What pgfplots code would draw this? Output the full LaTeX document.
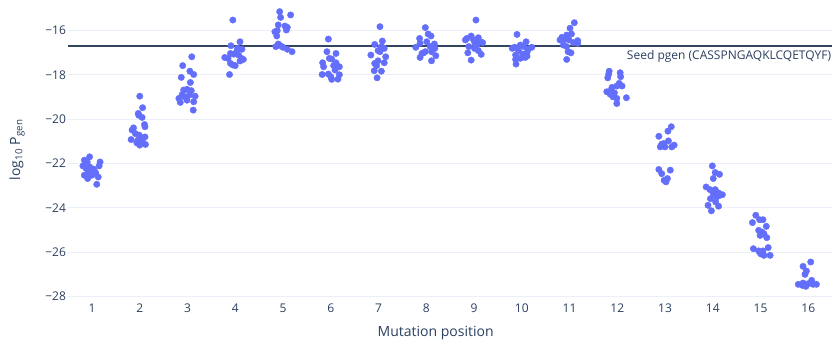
\documentclass[border=0pt]{standalone}
\usepackage{fontspec}
\setmainfont{Open Sans}
\usepackage{pgfplots}
\pgfplotsset{compat=1.18}
\usepackage{pgfplotstable}
\definecolor{mk}{HTML}{636EFA}
\definecolor{txt}{HTML}{2A3F5F}
\definecolor{gridc}{HTML}{EBF0F8}
\definecolor{hl}{HTML}{34465E}

\pgfplotstableread{
x y
0.95 -21.70
0.84 -21.85
0.90 -21.93
0.81 -22.11
1.17 -21.93
1.15 -22.11
0.88 -22.23
0.98 -22.30
0.93 -22.38
1.05 -22.33
1.08 -22.43
0.84 -22.53
0.91 -22.68
1.00 -22.53
1.13 -22.61
1.10 -22.94
0.95 -22.15
1.03 -22.25
2.00 -18.96
2.06 -19.48
1.97 -19.74
1.98 -19.82
2.05 -19.92
2.10 -20.24
2.11 -20.34
1.87 -20.39
1.84 -20.49
1.91 -20.65
1.99 -20.72
2.11 -20.80
1.82 -20.92
1.96 -20.95
2.03 -20.87
1.94 -21.07
2.00 -21.17
2.12 -21.14
2.06 -21.02
3.09 -17.18
2.90 -17.58
3.05 -17.83
3.13 -17.98
2.87 -18.11
3.06 -18.34
2.92 -18.68
3.08 -18.71
2.99 -18.65
2.89 -18.88
2.82 -19.06
2.94 -18.99
3.16 -18.96
2.85 -19.24
2.99 -19.14
3.13 -19.21
3.12 -19.59
3.04 -18.91
3.95 -15.52
4.10 -16.50
3.91 -16.68
4.05 -16.80
4.14 -16.84
3.90 -17.03
3.97 -17.06
4.03 -16.95
3.78 -17.21
3.85 -17.25
4.13 -17.25
4.17 -17.30
4.10 -17.37
3.90 -17.48
4.00 -17.58
3.95 -17.55
3.88 -17.98
4.07 -17.10
4.93 -15.14
5.16 -15.29
4.95 -15.40
4.90 -15.74
5.04 -15.79
5.09 -15.85
5.07 -15.97
4.83 -16.05
4.88 -16.00
4.87 -16.24
4.90 -16.60
4.95 -16.68
4.85 -16.72
5.00 -16.75
5.09 -16.84
5.19 -16.95
5.95 -16.38
5.92 -16.95
6.11 -17.03
5.97 -17.25
6.02 -17.28
5.83 -17.45
6.11 -17.45
6.06 -17.58
6.18 -17.63
5.85 -17.63
6.09 -17.78
5.82 -17.98
5.95 -17.96
6.18 -17.99
6.02 -18.20
6.15 -18.19
6.00 -18.08
7.03 -15.82
7.08 -16.47
6.92 -16.62
7.12 -16.80
7.03 -16.95
6.99 -16.90
6.84 -17.10
7.15 -17.18
6.99 -17.36
6.92 -17.48
7.12 -17.45
6.96 -17.58
6.91 -17.81
7.06 -17.83
6.97 -18.13
7.06 -16.72
7.98 -15.86
8.04 -16.15
7.86 -16.35
8.10 -16.24
8.01 -16.50
7.87 -16.57
8.17 -16.60
7.78 -16.75
8.08 -16.72
8.18 -16.80
7.98 -16.95
7.91 -17.03
8.11 -16.95
7.87 -17.21
8.20 -17.13
8.11 -17.36
7.94 -17.00
9.04 -15.52
8.94 -16.24
8.85 -16.35
9.09 -16.32
8.99 -16.42
9.13 -16.50
9.18 -16.54
9.06 -16.65
8.89 -16.72
9.01 -16.80
9.09 -16.90
8.87 -17.00
9.15 -17.07
8.94 -17.33
9.02 -16.57
8.82 -16.42
9.90 -16.17
9.97 -16.65
10.09 -16.50
10.04 -16.72
9.85 -16.75
10.21 -16.75
10.14 -16.83
9.93 -16.90
10.11 -16.98
10.02 -17.06
9.87 -17.10
9.97 -17.25
10.07 -17.21
10.11 -17.15
9.87 -17.30
9.88 -17.51
9.80 -16.80
11.10 -15.64
11.01 -15.89
10.94 -16.20
11.04 -16.15
10.84 -16.30
10.90 -16.39
10.80 -16.42
10.99 -16.42
11.17 -16.45
11.08 -16.54
11.17 -16.57
10.87 -16.65
10.94 -16.72
10.97 -16.95
11.03 -17.00
10.94 -17.30
11.83 -17.83
11.82 -17.96
12.06 -17.90
11.80 -18.13
12.07 -18.08
12.04 -18.38
12.10 -18.50
11.99 -18.50
11.89 -18.56
11.78 -18.76
11.85 -18.87
11.94 -18.81
11.91 -18.99
11.99 -19.06
12.19 -19.03
11.99 -19.29
11.87 -18.68
13.13 -20.34
13.06 -20.54
12.87 -20.77
13.07 -20.98
12.93 -21.13
13.00 -21.25
12.90 -21.25
13.19 -21.17
13.14 -21.25
12.97 -21.10
12.87 -22.27
13.11 -22.30
12.93 -22.46
12.98 -22.76
13.05 -22.68
13.02 -22.83
13.99 -22.11
14.05 -22.41
14.14 -22.49
14.01 -22.68
13.86 -23.06
13.94 -23.18
14.05 -23.18
14.12 -23.33
14.20 -23.41
14.01 -23.36
14.08 -23.51
13.95 -23.59
14.06 -23.74
13.90 -23.89
14.12 -23.93
13.97 -24.14
14.15 -23.44
14.90 -24.34
14.98 -24.54
15.05 -24.54
14.83 -24.67
15.12 -24.84
14.96 -25.02
15.03 -25.10
15.07 -25.17
15.13 -25.35
14.99 -25.25
14.85 -25.85
14.96 -25.95
15.05 -25.95
15.16 -25.80
15.07 -26.15
15.20 -26.15
15.00 -26.08
16.05 -26.45
15.89 -26.65
15.96 -26.86
15.93 -27.01
15.79 -27.46
15.89 -27.40
15.95 -27.55
16.07 -27.28
16.00 -27.43
16.10 -27.46
16.17 -27.46
15.88 -27.51
}\pts

\begin{document}
\begin{tikzpicture}[x=1pt,y=1pt]
\useasboundingbox (-68.1,-46.5) rectangle (764.9,298.5);
\begin{axis}[
  at={(0,0)}, anchor=south west,
  scale only axis, width=764.1pt, height=297.7pt,
  xmin=0.5, xmax=16.5, ymin=-28.1, ymax=-14.65,
  axis line style={draw=none},
  major tick length=0pt,
  xtick={1,2,3,4,5,6,7,8,9,10,11,12,13,14,15,16},
  xticklabels={1,2,3,4,5,6,7,8,9,10,11,12,13,14,15,16},
  ytick={-28,-26,-24,-22,-20,-18,-16},
  yticklabels={−28,−26,−24,−22,−20,−18,−16},
  ymajorgrids, grid style={gridc, line width=1pt},
  tick label style={font=\fontsize{12}{14}\selectfont, text=txt},
  xticklabel style={anchor=north, inner sep=0pt, yshift=-5pt},
  yticklabel style={anchor=east, inner sep=0pt, xshift=-2pt},
  xlabel={Mutation position},
  ylabel={log\textsubscript{10} P\textsubscript{gen}},
  label style={font=\fontsize{14}{16}\selectfont, text=txt},
  xlabel style={at={(axis description cs:0.481,-0.1176)}, anchor=center},
  ylabel style={at={(axis description cs:-0.0667,0.5)}, anchor=center},
  clip=false,
]
\addplot[only marks, mark=*, color=mk, mark size=3.2pt] table[x=x,y=y]{\pts};
\addplot[hl, line width=2pt, no marks] coordinates {(0.5,-16.69) (16.5,-16.69)};
\node[anchor=east, inner sep=0pt, font=\fontsize{12}{14}\selectfont, text=txt] at (axis cs:16.48,-17.14) {Seed pgen (CASSPNGAQKLCQETQYF)};
\end{axis}
\end{tikzpicture}
\end{document}
